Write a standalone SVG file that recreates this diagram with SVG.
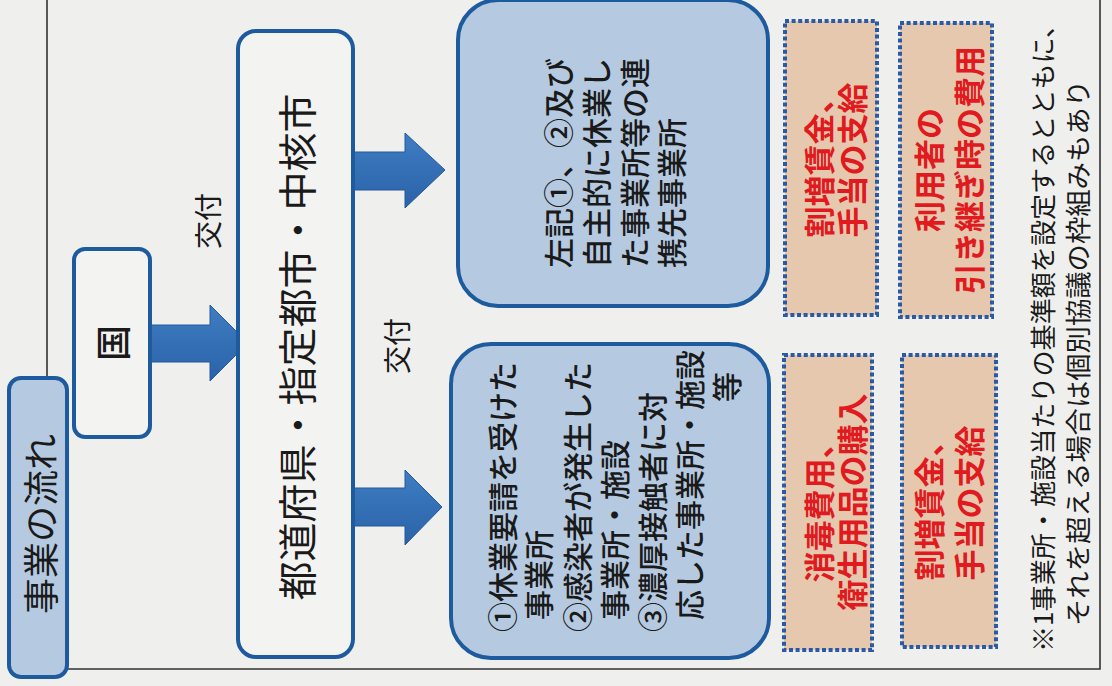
<svg xmlns="http://www.w3.org/2000/svg" width="1112" height="686" viewBox="0 0 1112 686">
<defs>
<style>
.t{font-family:"Noto Sans CJK JP","Noto Sans CJK SC",sans-serif;fill:#1a1a1a;dominant-baseline:central}
.m{font-weight:500}
.blue{fill:#b5cae1;stroke:#1e5b9e;stroke-width:4}
.white{fill:#f3f3f1;stroke:#1e5b9e;stroke-width:4}
.dot{fill:#e5c8ad;stroke:#2a5aa5;stroke-width:4;stroke-dasharray:4 2.6}
.red{font-family:"Noto Sans CJK JP","Noto Sans CJK SC",sans-serif;fill:#e01a1e;font-weight:700;font-size:31px;dominant-baseline:central;text-anchor:middle}
.arr{fill:url(#ag);stroke:#24589a;stroke-width:1}
.frame{fill:none;stroke:#333;stroke-width:1.6}
</style>
<linearGradient id="ag" x1="0" y1="0" x2="0" y2="1">
<stop offset="0" stop-color="#3f7dc2"/>
<stop offset="1" stop-color="#2a62a8"/>
</linearGradient>
</defs>
<rect width="1112" height="686" fill="#efefed"/>
<g id="frame">
<path class="frame" d="M47,0 V380 M67,669 H1100 V0"/>
</g>
<g id="connectors">
<polygon class="arr" points="150,325 210,325 210,305 248,343 210,381 210,362 150,362"/>
<polygon class="arr" points="342,152 405,152 405,133 445,170 405,208 405,190 342,190"/>
<polygon class="arr" points="343,488 405,488 405,470 442,507 405,545 405,526 343,526"/>
<text class="t" font-size="28" text-anchor="middle" transform="translate(207,221) rotate(-90)">交付</text>
<text class="t" font-size="28" text-anchor="middle" transform="translate(396,346) rotate(-90)">交付</text>
</g>
<g id="title">
<rect class="blue" x="9" y="378" width="58" height="299" rx="12"/>
<text class="t" font-size="36" text-anchor="middle" transform="translate(39,524) rotate(-90)">事業の流れ</text>
</g>
<g id="kuni">
<rect class="white" x="74" y="249" width="76" height="188" rx="11"/>
<text class="t m" font-size="36" text-anchor="middle" transform="translate(111,343) rotate(-90)">国</text>
</g>
<g id="pref">
<rect class="white" x="238" y="31" width="115" height="626" rx="18"/>
<text class="t" font-size="39" text-anchor="middle" transform="translate(295,347) rotate(-90)">都道府県・指定都市・中核市</text>
</g>
<g id="targets">
<rect class="blue" x="451" y="344" width="318" height="314" rx="40"/>
<g class="t m" font-size="30">
<text transform="translate(501,632) rotate(-90)">①休業要請を受けた</text>
<text transform="translate(537,620) rotate(-90)">事業所</text>
<text transform="translate(576,632) rotate(-90)">②感染者が発生した</text>
<text transform="translate(613,620) rotate(-90)">事業所・施設</text>
<text transform="translate(651,632) rotate(-90)">③濃厚接触者に対</text>
<text transform="translate(688,620) rotate(-90)">応した事業所・施設</text>
<text text-anchor="middle" transform="translate(725,387) rotate(-90)">等</text>
</g>
</g>
<g id="partners">
<rect class="blue" x="458" y="0" width="310" height="306" rx="40"/>
<g class="t m" font-size="30">
<text transform="translate(557,268) rotate(-90)">左記①、②及び</text>
<text transform="translate(595,268) rotate(-90)">自主的に休業し</text>
<text transform="translate(633,268) rotate(-90)">た事業所等の連</text>
<text transform="translate(670,268) rotate(-90)">携先事業所</text>
</g>
</g>
<g id="cost1">
<rect class="dot" x="785" y="21" width="92" height="294"/>
<text class="red" transform="translate(817,160) rotate(-90)">割増賃金、</text>
<text class="red" transform="translate(850,160) rotate(-90)">手当の支給</text>
</g>
<g id="cost2">
<rect class="dot" x="900" y="23" width="92" height="294"/>
<text class="red" transform="translate(927,170) rotate(-90)">利用者の</text>
<text class="red" transform="translate(967,170) rotate(-90)">引き継ぎ時の費用</text>
</g>
<g id="cost3">
<rect class="dot" x="784" y="355" width="88" height="295"/>
<text class="red" transform="translate(817,505) rotate(-90)">消毒費用、</text>
<text class="red" transform="translate(850,502) rotate(-90)">衛生用品の購入</text>
</g>
<g id="cost4">
<rect class="dot" x="902" y="355" width="94" height="292"/>
<text class="red" transform="translate(927,503) rotate(-90)">割増賃金、</text>
<text class="red" transform="translate(967,503) rotate(-90)">手当の支給</text>
</g>
<g id="note" class="t" font-size="26">
<text transform="translate(1041,652) rotate(-90)" textLength="640" lengthAdjust="spacingAndGlyphs">※1事業所・施設当たりの基準額を設定するとともに、</text>
<text transform="translate(1076,626) rotate(-90)" textLength="546" lengthAdjust="spacingAndGlyphs">それを超える場合は個別協議の枠組みもあり</text>
</g>
</svg>
